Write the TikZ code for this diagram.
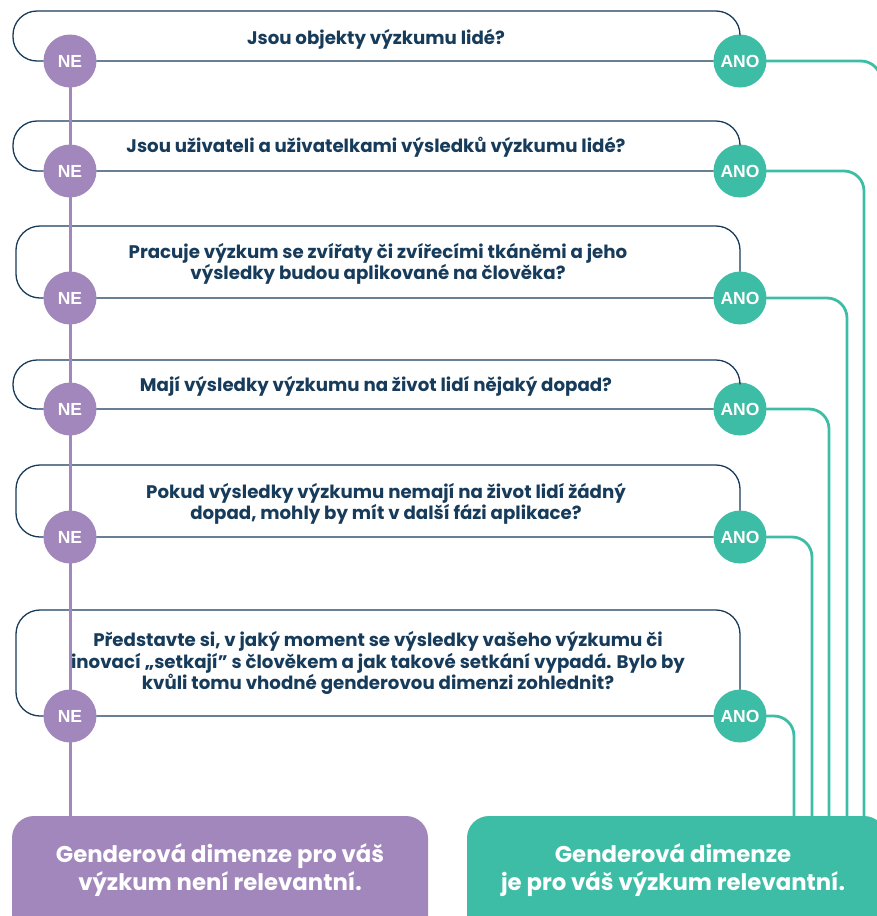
\documentclass[tikz,border=0pt]{standalone}
\usepackage{fontspec}
\setmainfont{Poppins}
\newfontfamily\dotfont{Liberation Sans}
\definecolor{navy}{RGB}{23,59,90}
\definecolor{nepurple}{RGB}{162,135,188}
\definecolor{anogreen}{RGB}{62,189,166}
\begin{document}
\begin{tikzpicture}[x=1pt,y=-1pt,line cap=round,line join=round,
    frame/.style={draw=navy,line width=1.3pt,rounded corners=24pt},
    question/.style={text=navy,align=center,inner sep=0pt,
      font=\fontsize{18.2}{21.5}\selectfont\bfseries},
    nedot/.style={circle,fill=nepurple,minimum size=53pt,inner sep=0pt,
      text=white,font=\dotfont\fontsize{17.5}{17.5}\selectfont\bfseries},
    anodot/.style={nedot,fill=anogreen},
    neline/.style={draw=nepurple,line width=3pt},
    anoline/.style={draw=anogreen,line width=2.8pt,rounded corners=20pt},
    result/.style={text=white,align=center,
      font=\fontsize{22.8}{28}\selectfont\bfseries}]
  \useasboundingbox (0,0) rectangle (877,916);

  % answers
  \fill[nepurple,rounded corners=22pt] (12,816) rectangle (428,940);
  \fill[anogreen,rounded corners=22pt] (467,816) rectangle (886,940);
  \node[result] (nobox) at (220,870) {Genderová dimenze pro váš\\výzkum není relevantní.};
  \node[result] (yesbox) at (673,870) {Genderová dimenze\\je pro váš výzkum relevantní.};
  \coordinate (nein) at (70,816);

  % questions
  \node[question] (q1) at (376,39) {Jsou objekty výzkumu lidé?};
  \node[question] (q2) at (376,147) {Jsou uživateli a uživatelkami výsledků výzkumu lidé?};
  \node[question] (q3) at (378,264) {Pracuje výzkum se zvířaty či zvířecími tkáněmi a jeho\\výsledky budou aplikované na člověka?};
  \node[question] (q4) at (376,386) {Mají výsledky výzkumu na život lidí nějaký dopad?};
  \node[question] (q5) at (386,504) {Pokud výsledky výzkumu nemají na život lidí žádný\\dopad, mohly by mít v další fázi aplikace?};
  \node[question] (q6) at (378,663) {Představte si, v jaký moment se výsledky vašeho výzkumu či\\inovací „setkají” s člověkem a jak takové setkání vypadá. Bylo by\\kvůli tomu vhodné genderovou dimenzi zohlednit?};

  \node[nedot] (ne1) at (70,61) {NE};
  \node[nedot] (ne2) at (70,171) {NE};
  \node[nedot] (ne3) at (70,298) {NE};
  \node[nedot] (ne4) at (70,409) {NE};
  \node[nedot] (ne5) at (70,537) {NE};
  \node[nedot] (ne6) at (70,716) {NE};
  \node[anodot] (ano1) at (740,61) {ANO};
  \node[anodot] (ano2) at (740,171) {ANO};
  \node[anodot] (ano3) at (740,298) {ANO};
  \node[anodot] (ano4) at (740,409) {ANO};
  \node[anodot] (ano5) at (740,537) {ANO};
  \node[anodot] (ano6) at (740,716) {ANO};

  % frames round the questions
  \draw[frame] (ano1.north) |- (13,11) |- (ne1.west) (ne1.east) -- (ano1.west);
  \draw[frame] (ano2.north) |- (13,121) |- (ne2.west) (ne2.east) -- (ano2.west);
  \draw[frame] (ano3.north) |- (16,226) |- (ne3.west) (ne3.east) -- (ano3.west);
  \draw[frame] (ano4.north) |- (13,360) |- (ne4.west) (ne4.east) -- (ano4.west);
  \draw[frame] (ano5.north) |- (16,465) |- (ne5.west) (ne5.east) -- (ano5.west);
  \draw[frame] (ano6.north) |- (16,610) |- (ne6.west) (ne6.east) -- (ano6.west);

  % NE path
  \draw[neline] (ne1) -- (ne2) (ne2) -- (ne3) (ne3) -- (ne4) (ne4) -- (ne5) (ne5) -- (ne6) (ne6) -- (nein);

  % ANO paths
  \coordinate (in1) at (881,816);
  \coordinate (in2) at (864,816);
  \coordinate (in3) at (847,816);
  \coordinate (in4) at (829,816);
  \coordinate (in5) at (812,816);
  \coordinate (in6) at (794,816);
  \draw[anoline] (ano1.east) -| (in1);
  \draw[anoline] (ano2.east) -| (in2);
  \draw[anoline] (ano3.east) -| (in3);
  \draw[anoline] (ano4.east) -| (in4);
  \draw[anoline] (ano5.east) -| (in5);
  \draw[anoline] (ano6.east) -| (in6);
\end{tikzpicture}
\end{document}
